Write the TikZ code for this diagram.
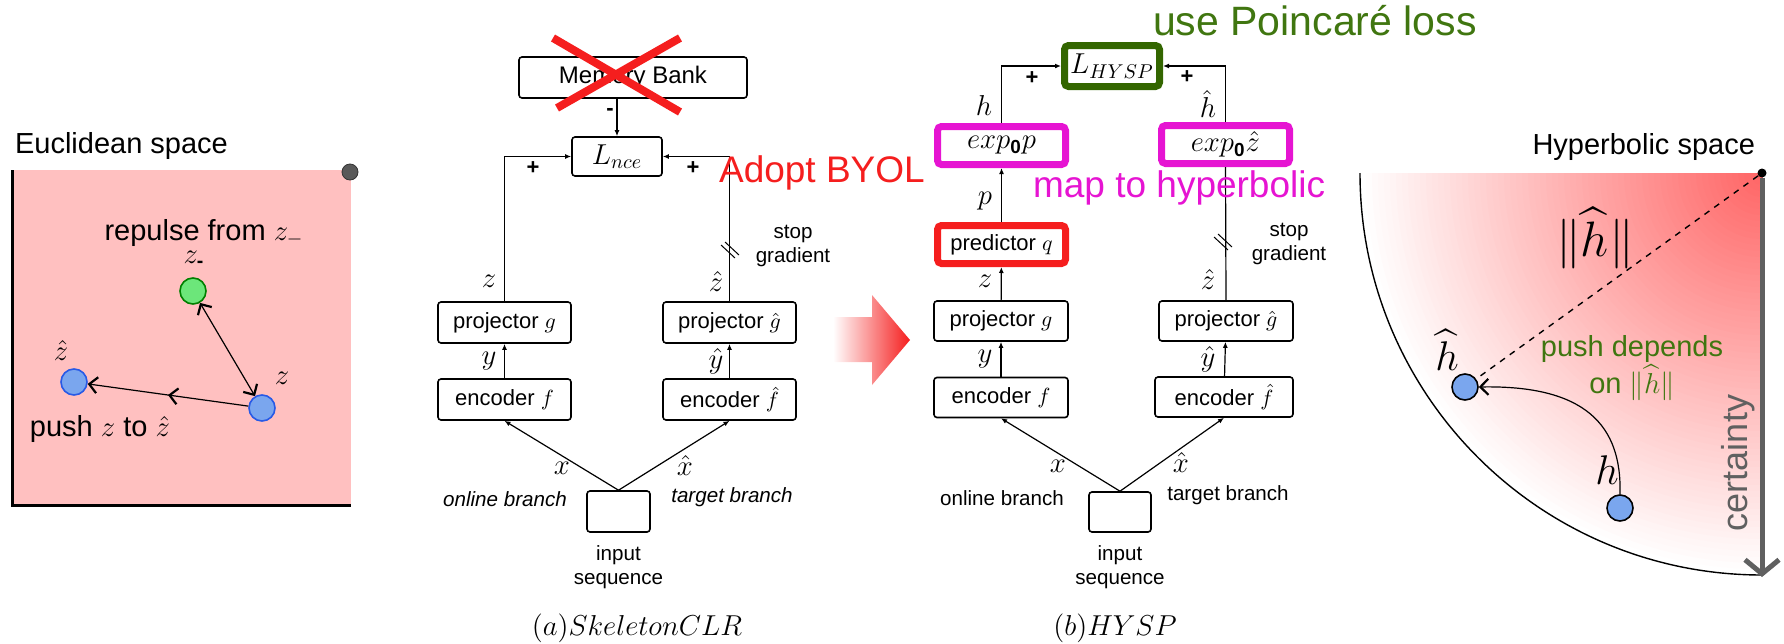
\documentclass[tikz,border=0pt]{standalone}
\usepackage{amsmath}
\usepackage{fontspec}
\setmainfont{Liberation Sans}
\usepackage{tikz}
\usetikzlibrary{positioning,arrows.meta,decorations.markings}

\definecolor{eucpink}{RGB}{255,192,192}
\definecolor{ptgreen}{RGB}{108,230,122}
\definecolor{ptblue}{RGB}{122,166,238}
\definecolor{ptblueedge}{RGB}{40,90,230}
\definecolor{lossgreen}{RGB}{51,102,0}
\definecolor{txtgreen}{RGB}{64,118,16}
\definecolor{mapmag}{RGB}{230,20,210}
\definecolor{byolred}{RGB}{245,30,30}
\definecolor{hypred}{RGB}{255,100,100}
\definecolor{certgrey}{RGB}{96,96,96}

\begin{document}
\begin{tikzpicture}[
        x=0.5pt, y=-0.5pt,
        >={Latex[length=3pt,width=2.5pt]},
        box/.style={draw, rounded corners=1.5pt, line width=0.8pt, minimum width=66.5pt, minimum height=20.5pt, inner sep=1pt, font=\fontsize{11}{13}\selectfont},
        hbox/.style={box, line width=3.5pt, minimum width=64pt, minimum height=19pt, rounded corners=2pt},
        arrow/.style={->, line width=0.6pt},
        lab/.style={font=\fontsize{13.5}{15}\selectfont},
        plus/.style={font=\bfseries\fontsize{11}{13}\selectfont},
        small/.style={font=\fontsize{10.3}{12}\selectfont, align=center},
        big/.style={font=\fontsize{18.5}{22}\selectfont},
        space/.style={font=\fontsize{14.5}{18.5}\selectfont},
        dot/.style={circle, draw, line width=0.8pt, minimum size=13pt, inner sep=0pt},
        barb/.style={-{Straight Barb[length=4pt,width=8pt,line width=1.1pt]}, line width=0.6pt},
        dbarb/.style={{Straight Barb[length=4pt,width=8pt,line width=1.1pt]}-{Straight Barb[length=4pt,width=8pt,line width=1.1pt]}, line width=0.6pt}
    ]
    \useasboundingbox (0,0) rectangle (1784,643);

    % Euclidean space
    \node[space, anchor=west] (euct) at (8,146) {Euclidean space};
    \fill[eucpink] (12,170) rectangle (351,505);
    \draw[line width=1.5pt] (12,170) -- (12,505) -- (351,505);
    \node[circle, fill=black!65, draw=black!80, minimum size=8pt, inner sep=0pt] (ecorner) at (350,172) {};
    \node[dot, fill=ptgreen, draw=green!50!black] (zn) at (193,291) {};
    \node[dot, fill=ptblue, draw=ptblueedge] (zh) at (74,382) {};
    \node[dot, fill=ptblue, draw=ptblueedge] (z) at (262,408) {};
    \node[space] (rep) at (204,233) {repulse from $z_-$};
    \node[lab, font=\fontsize{14}{16}\selectfont] at (194,259) {$z_{\text{\bfseries -}}$};
    \node[lab, font=\fontsize{14}{16}\selectfont] at (61,350) {$\hat{z}$};
    \node[lab, font=\fontsize{14}{16}\selectfont] at (282,378) {$z$};
    \node[space] (push) at (100,429) {push $z$ to $\hat{z}$};
    \draw[barb, postaction={decorate}, decoration={markings, mark=at position 0.5 with {\arrow{Straight Barb[length=4pt,width=8pt,line width=1.1pt]}}}] (z) -- (zh);
    \draw[dbarb] (zn) -- (z);

    % (a) SkeletonCLR
    \node[box, minimum width=114pt, font=\fontsize{12}{14}\selectfont] (mem) at (633,77.5) {Memory Bank};
    \node[box, minimum width=45pt, minimum height=19.5pt, font=\fontsize{14}{16}\selectfont] (lnce) at (617,156.5) {$L_{nce}$};
    \node[box] (pga) at (504.5,322.5) {projector $g$};
    \node[box] (pha) at (729.5,322.5) {projector $\hat{g}$};
    \node[box] (efa) at (504.5,399.5) {encoder $f$};
    \node[box] (eha) at (729.5,399.5) {encoder $\hat{f}$};
    \node[box, minimum width=31.5pt] (ina) at (618.5,511.5) {};
    \node[small, below=3pt of ina] (inta) {input\\sequence};

    \draw[arrow] (lnce.north |- mem.south) -- (lnce.north);
    \node[plus] at (610,112) {-};
    \draw[arrow] (pga.north) |- (lnce.west);
    \draw[arrow] (pha.north) |- (lnce.east);
    \node[plus] at (533,168) {+};
    \node[plus] at (693,168) {+};
    \draw[arrow] (efa) -- (pga);
    \draw[arrow] (eha) -- (pha);
    \draw[arrow] (ina.north) -- (efa.south);
    \draw[arrow] (ina.north) -- (eha.south);
    \node[lab] at (489,281) {$z$};
    \node[lab] at (716,281) {$\hat{z}$};
    \node[lab] at (489,361) {$y$};
    \node[lab] at (716,361) {$\hat{y}$};
    \node[lab] at (562,468) {$x$};
    \node[lab] at (685,465) {$\hat{x}$};
    \draw[line width=0.5pt] (721,245) -- ++(14,13) (725,242) -- ++(14,13);
    \node[small] at (793,246) {stop\\gradient};
    \node[small, font=\itshape\fontsize{10.3}{12}\selectfont] at (505,499) {online branch};
    \node[small, font=\itshape\fontsize{10.3}{12}\selectfont] at (732,497) {target branch};
    \node[font=\fontsize{14.5}{17}\selectfont] at (637,628) {$(a) SkeletonCLR$};

    % crossed out memory bank
    \draw[byolred, line width=4pt] (553,38) -- (680,112) (680,38) -- (557,108);
    \node[big, text=byolred, anchor=west] at (712,173) {Adopt BYOL};

    % shaded arrow
    \shade[left color=white, right color=byolred] (833,317) -- (872,317) -- (872,295) -- (910,340) -- (872,385) -- (872,362) -- (833,362) -- cycle;

    % (b) HYSP
    \node[box, draw=lossgreen, line width=3.5pt, rounded corners=2pt, minimum width=47.5pt, minimum height=20.5pt, font=\fontsize{14}{16}\selectfont] (lhy) at (1112,66) {$L_{HYSP}$};
    \node[hbox, draw=mapmag, font=\fontsize{13.5}{15}\selectfont] (exp) at (1001.5,145.5) {$exp_{\mathbf{0}}p$};
    \node[hbox, draw=mapmag, font=\fontsize{13.5}{15}\selectfont] (exz) at (1225.5,144.5) {$exp_{\mathbf{0}}\hat{z}$};
    \node[hbox, draw=byolred] (pred) at (1001.5,244.5) {predictor $q$};
    \node[box, minimum width=67pt, minimum height=20pt] (pgb) at (1001,321) {projector $g$};
    \node[box, minimum width=67pt, minimum height=20pt] (phb) at (1226,321) {projector $\hat{g}$};
    \node[box, minimum width=67pt, minimum height=20pt] (efb) at (1001,397.5) {encoder $f$};
    \node[box, minimum width=69pt, minimum height=20pt] (ehb) at (1224,397) {encoder $\hat{f}$};
    \node[box, minimum width=31pt, minimum height=20pt] (inb) at (1120,512) {};
    \node[small, below=3pt of inb] (intb) {input\\sequence};

    \draw[arrow] (exp.north) |- (lhy.west);
    \draw[arrow] (exz.north) |- (lhy.east);
    \node[plus] at (1032,78) {+};
    \node[plus] at (1187,77) {+};
    \draw[arrow] (pred) -- (exp);
    \draw[arrow] (pgb) -- (pred);
    \draw[line width=0.6pt] (phb.north) -- (exz.south);
    \draw[arrow] (efb) -- (pgb);
    \draw[arrow] (ehb) -- (phb);
    \draw[arrow] (inb.north) -- (efb.south);
    \draw[arrow] (inb.north) -- (ehb.south);
    \node[lab] at (984,105) {$h$};
    \node[lab] at (1208,104) {$\hat{h}$};
    \node[lab] at (985,201) {$p$};
    \node[lab] at (985,281) {$z$};
    \node[lab] at (1208,279) {$\hat{z}$};
    \node[lab] at (985,359) {$y$};
    \node[lab] at (1208,359) {$\hat{y}$};
    \node[lab] at (1058,466) {$x$};
    \node[lab] at (1181,462) {$\hat{x}$};
    \draw[line width=0.5pt] (1214,237) -- ++(14,13) (1218,234) -- ++(14,13);
    \node[small] at (1289,244) {stop\\gradient};
    \node[small] at (1002,498) {online branch};
    \node[small] at (1228,495) {target branch};
    \node[font=\fontsize{14.5}{17}\selectfont] at (1115,628) {$(b) HYSP$};
    \node[big, text=txtgreen, anchor=west, font=\fontsize{20.5}{24}\selectfont] at (1146,21) {use Poincaré loss};
    \node[big, text=mapmag, anchor=west] at (1026,188) {map to hyperbolic};

    % Hyperbolic space
    \node[space, anchor=east] (hypt) at (1762,147) {Hyperbolic space};
    \begin{scope}
        \clip (1762,173) -- (1360,173) arc[start angle=180, end angle=90, radius=402] -- cycle;
        \foreach \r in {402,396,...,6} {
            \pgfmathsetmacro\pc{100*(1-\r/402)}
            \fill[hypred!\pc!white] (1762,173) circle[radius=\r];
        }
    \end{scope}
    \draw[line width=0.7pt] (1360,173) arc[start angle=180, end angle=90, radius=402];
    \coordinate (hbot) at (1762,577);
    \node[circle, fill=black, inner sep=0pt, minimum size=4.5pt] (hc) at (1762,173) {};
    \draw[certgrey, line width=2.5pt, -{Straight Barb[length=7pt,width=17pt,line width=2.5pt]}] (hc) -- (hbot);
    \node[rotate=90, text=certgrey, font=\fontsize{18}{20}\selectfont] (cert) at (1738,463) {certainty};
    \node[dot, fill=ptblue, draw=black] (hh) at (1465,387) {};
    \node[dot, fill=ptblue, draw=black] (hp) at (1620,508) {};
    \draw[dashed, line width=0.7pt] (hc) -- (hh);
    \draw[barb] (hp.north) .. controls (1622,425) and (1585,385) .. (hh.east);
    \node[font=\fontsize{26}{30}\selectfont] at (1595,238) {$\|\widehat{h}\|$};
    \node[font=\fontsize{21}{24}\selectfont] at (1447,350) {$\widehat{h}$};
    \node[font=\fontsize{21}{24}\selectfont] at (1607,470) {$h$};
    \node[space, text=txtgreen, align=center] at (1632,368) {push depends\\on $\|\widehat{h}\|$};
\end{tikzpicture}
\end{document}
